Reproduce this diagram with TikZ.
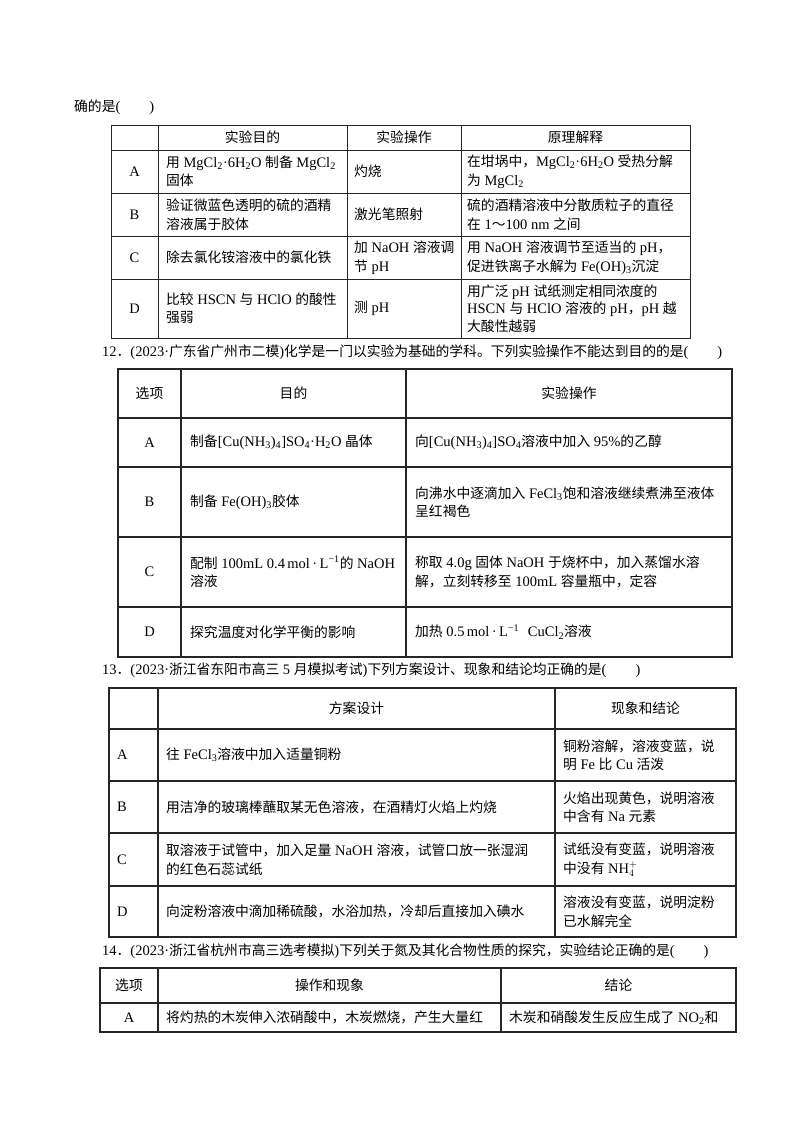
\documentclass[tikz,border=0pt]{standalone}
\usepackage{fontspec}
\setmainfont{Liberation Serif}
\newfontfamily\cjk{Noto Sans CJK SC}[Scale=0.95]
\XeTeXinterchartokenstate=1
\newXeTeXintercharclass\cjkclass
\count255="3000
\loop\ifnum\count255<"3040 \XeTeXcharclass\count255=\cjkclass \advance\count255 by 1 \repeat
\count255="4E00
\loop\ifnum\count255<"A000 \XeTeXcharclass\count255=\cjkclass \advance\count255 by 1 \repeat
\count255="FF00
\loop\ifnum\count255<"FFF0 \XeTeXcharclass\count255=\cjkclass \advance\count255 by 1 \repeat
\XeTeXinterchartoks 0 \cjkclass = {\begingroup\cjk}
\XeTeXinterchartoks 4095 \cjkclass = {\begingroup\cjk}
\XeTeXinterchartoks \cjkclass 0 = {\endgroup}
\XeTeXinterchartoks \cjkclass 4095 = {\endgroup}
\newcommand\sbs[1]{\textsubscript{#1}}
\newcommand\sps[1]{\textsuperscript{#1}}
\begin{document}
\begin{tikzpicture}[x=1pt,y=-1pt,
  every node/.style={font=\fontsize{14.5}{18.5}\selectfont,inner sep=0pt},
  cellw/.style={anchor=west,align=left},
  cellc/.style={anchor=center,align=center},
  thin grid/.style={line width=0.9pt,draw=black!85},
  thick grid/.style={line width=1.2pt,draw=black!85}]
\useasboundingbox[fill=white] (0,0) rectangle (800,1132);

% intro
\node[anchor=west] (t0) at (74,107) {确的是(\hspace{2em})};

% ---------- table 1
\draw[thin grid] (111,125) rectangle (690,338);
\foreach \y in {150,193,236,279} \draw[thin grid] (111,\y) -- (690,\y);
\foreach \x in {158,347,461} \draw[thin grid] (\x,125) -- (\x,338);
\node[cellc] (h1a) at (252.5,137.5) {实验目的};
\node[cellc] (h1b) at (404,137.5) {实验操作};
\node[cellc] (h1c) at (575.5,137.5) {原理解释};
\node[cellc] (a1) at (134.5,171.5) {A};
\node[cellc] (b1) at (134.5,214.5) {B};
\node[cellc] (c1) at (134.5,257.5) {C};
\node[cellc] (d1) at (134.5,308.5) {D};
\node[cellw] at (166,171.5) {用 MgCl\sbs{2}·6H\sbs{2}O 制备 MgCl\sbs{2}\\固体};
\node[cellw] at (354,171.5) {灼烧};
\node[cellw] at (467,171.5) {在坩埚中，MgCl\sbs{2}·6H\sbs{2}O 受热分解\\为 MgCl\sbs{2}};
\node[cellw] at (166,214.5) {验证微蓝色透明的硫的酒精\\溶液属于胶体};
\node[cellw] at (354,214.5) {激光笔照射};
\node[cellw] at (467,214.5) {硫的酒精溶液中分散质粒子的直径\\在 1～100 nm 之间};
\node[cellw] at (166,257.5) {除去氯化铵溶液中的氯化铁};
\node[cellw] at (354,257.5) {加 NaOH 溶液调\\节 pH};
\node[cellw] at (467,257.5) {用 NaOH 溶液调节至适当的 pH，\\促进铁离子水解为 Fe(OH)\sbs{3}沉淀};
\node[cellw] at (166,308.5) {比较 HSCN 与 HClO 的酸性\\强弱};
\node[cellw] at (354,308.5) {测 pH};
\node[cellw,font=\fontsize{14.5}{17.5}\selectfont] at (467,308.5) {用广泛 pH 试纸测定相同浓度的\\HSCN 与 HClO 溶液的 pH，pH 越\\大酸性越弱};

% ---------- question 12
\node[anchor=west] (q12) at (102,352) {12．(2023·广东省广州市二模)化学是一门以实验为基础的学科。下列实验操作不能达到目的的是(\hspace{2em})};
\draw[thick grid] (118,369) rectangle (732,657);
\foreach \y in {418,467,537,607} \draw[thick grid] (118,\y) -- (732,\y);
\foreach \x in {181,406} \draw[thick grid] (\x,369) -- (\x,657);
\node[cellc] at (149.5,393.5) {选项};
\node[cellc] at (293.5,393.5) {目的};
\node[cellc] at (569,393.5) {实验操作};
\node[cellc] at (149.5,442.5) {A};
\node[cellc] at (149.5,502) {B};
\node[cellc] at (149.5,572) {C};
\node[cellc] at (149.5,632) {D};
\node[cellw] at (190,442.5) {制备[Cu(NH\sbs{3})\sbs{4}]SO\sbs{4}·H\sbs{2}O 晶体};
\node[cellw] at (415,442.5) {向[Cu(NH\sbs{3})\sbs{4}]SO\sbs{4}溶液中加入 95\%的乙醇};
\node[cellw] at (190,502) {制备 Fe(OH)\sbs{3}胶体};
\node[cellw] at (415,502) {向沸水中逐滴加入 FeCl\sbs{3}饱和溶液继续煮沸至液体\\呈红褐色};
\node[cellw] at (190,572) {配制 100mL 0.4\,mol\,·\,L\sps{−1}的 NaOH\\溶液};
\node[cellw] at (415,572) {称取 4.0g 固体 NaOH 于烧杯中，加入蒸馏水溶\\解，立刻转移至 100mL 容量瓶中，定容};
\node[cellw] at (190,632) {探究温度对化学平衡的影响};
\node[cellw] at (415,632) {加热 0.5\,mol\,·\,L\sps{−1}\hspace{0.6em}CuCl\sbs{2}溶液};

% ---------- question 13
\node[anchor=west] (q13) at (102,670) {13．(2023·浙江省东阳市高三 5 月模拟考试)下列方案设计、现象和结论均正确的是(\hspace{2em})};
\draw[thick grid] (109,688) rectangle (736,937);
\foreach \y in {729,781,833,886} \draw[thick grid] (109,\y) -- (736,\y);
\foreach \x in {158,555} \draw[thick grid] (\x,688) -- (\x,937);
\node[cellc] at (356.5,708.5) {方案设计};
\node[cellc] at (645.5,708.5) {现象和结论};
\node[cellw] (a3) at (117,755) {A};
\node[cellw] (b3) at (117,807) {B};
\node[cellw] (c3) at (117,859.5) {C};
\node[cellw] (d3) at (117,911.5) {D};
\node[cellw] at (166,755) {往 FeCl\sbs{3}溶液中加入适量铜粉};
\node[cellw] at (563,755) {铜粉溶解，溶液变蓝，说\\明 Fe 比 Cu 活泼};
\node[cellw] at (166,807) {用洁净的玻璃棒蘸取某无色溶液，在酒精灯火焰上灼烧};
\node[cellw] at (563,807) {火焰出现黄色，说明溶液\\中含有 Na 元素};
\node[cellw] at (166,859.5) {取溶液于试管中，加入足量 NaOH 溶液，试管口放一张湿润\\的红色石蕊试纸};
\node[cellw] at (563,859.5) {试纸没有变蓝，说明溶液\\中没有 NH$_4^+$};
\node[cellw] at (166,911.5) {向淀粉溶液中滴加稀硫酸，水浴加热，冷却后直接加入碘水};
\node[cellw] at (563,911.5) {溶液没有变蓝，说明淀粉\\已水解完全};

% ---------- question 14
\node[anchor=west] (q14) at (102,951) {14．(2023·浙江省杭州市高三选考模拟)下列关于氮及其化合物性质的探究，实验结论正确的是(\hspace{2em})};
\draw[thick grid] (100,968) rectangle (736,1032);
\draw[thick grid] (100,1003) -- (736,1003);
\foreach \x in {158,501} \draw[thick grid] (\x,968) -- (\x,1032);
\node[cellc] at (129,985.5) {选项};
\node[cellc] at (329.5,985.5) {操作和现象};
\node[cellc] at (618.5,985.5) {结论};
\node[cellc] (a4) at (129,1017.5) {A};
\node[cellw] at (166,1017.5) {将灼热的木炭伸入浓硝酸中，木炭燃烧，产生大量红};
\node[cellw] at (509,1017.5) {木炭和硝酸发生反应生成了 NO\sbs{2}和};
\end{tikzpicture}
\end{document}
